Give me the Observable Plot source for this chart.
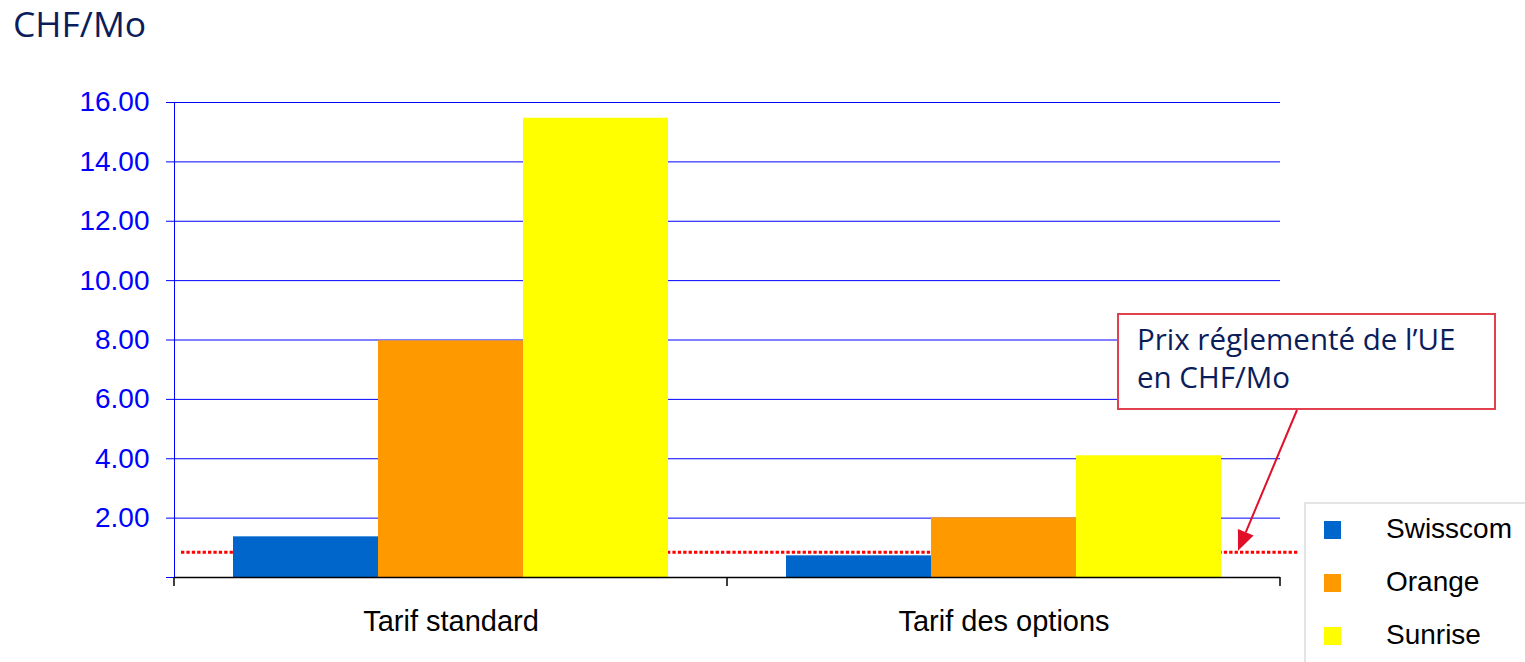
<!DOCTYPE html>
<html>
<head>
<meta charset="utf-8">
<script src="https://cdn.jsdelivr.net/npm/d3@7"></script>
<script src="https://cdn.jsdelivr.net/npm/@observablehq/plot@0.6"></script>
<style>
  html, body { margin: 0; padding: 0; background: #fff; }
  body { width: 1525px; height: 662px; overflow: hidden; position: relative; }
  #title { position: relative; height: 70px; }
  #title span { position: absolute; left: 13px; top: 6px; font-family: "Open Sans", sans-serif; font-size: 35.5px; line-height: 35.5px; color: #0b1d5a; white-space: nowrap; }
  #chart { position: relative; height: 592px; }
  #note { position: absolute; left: 1117px; top: 313px; width: 379px; height: 97px; box-sizing: border-box; border: 2px solid #e2404f; background: #fff; padding: 5px 0 0 18px; font-family: "Open Sans", sans-serif; font-weight: 500; font-size: 29.5px; line-height: 38px; color: #0b1d5a; white-space: nowrap; }
  #legend { position: absolute; left: 1304px; top: 502px; width: 260px; height: 200px; box-sizing: border-box; border: 2px solid #e4e4e4; background: #fff; }
  .lg-sw { position: absolute; width: 17px; height: 18px; }
  .lg-tx { position: absolute; font-family: "Liberation Sans", Arial, sans-serif; font-size: 28px; line-height: 28px; color: #000; white-space: nowrap; }
  #overlay { position: absolute; left: 0; top: 0; pointer-events: none; }
</style>
</head>
<body>
<div id="title"><span>CHF/Mo</span></div>
<div id="chart"></div>
<div id="note">Prix réglementé de l’UE<br>en CHF/Mo</div>
<div id="legend"></div>
<svg id="overlay" width="1525" height="662"></svg>
<script>
// ---- data ----
const categories = ["Tarif standard", "Tarif des options"];
const companies = ["Swisscom", "Orange", "Sunrise"];
const swisscom = [1.37, 0.73];
const orange = [7.97, 2.01];
const sunrise = [15.47, 4.10];
const euPrice = 0.85;
const yTicks = [0, 2, 4, 6, 8, 10, 12, 14, 16];
const colors = ["#0066cc", "#ff9900", "#ffff00"];

const series = [swisscom, orange, sunrise];
const data = categories.flatMap((cat, i) =>
  companies.map((co, j) => ({cat, co, value: series[j][i]}))
);

const blue = "#0000ff";
const red = "#ff0000";
const titleH = 70;

const chart = Plot.plot({
  width: 1525,
  height: 592,
  marginLeft: 173,
  marginRight: 245,
  marginTop: 32,
  marginBottom: 85,
  style: {fontFamily: "'Liberation Sans', Arial, sans-serif", background: "white", overflow: "visible"},
  fx: {domain: categories, padding: 0},
  x: {domain: companies, paddingInner: 0, paddingOuter: 0.4, axis: null},
  y: {domain: [0, 16], axis: null},
  color: {domain: companies, range: colors},
  marks: [
    Plot.gridY(yTicks.filter(d => d > 0), {stroke: blue, strokeOpacity: 1, strokeWidth: 1}),
    Plot.axisY(yTicks, {
      anchor: "left",
      tickFormat: d => d === 0 ? "" : d.toFixed(2),
      tickSize: 8, tickPadding: 17, fontSize: 28,
      color: blue, strokeOpacity: 1, label: null
    }),
    Plot.axisFx({anchor: "bottom", tickSize: 0, tickPadding: 33, fontSize: 29, label: null, color: "black"}),
    Plot.ruleY([euPrice], {fx: [categories[0]], stroke: red, strokeWidth: 3, strokeDasharray: "3.3,2.1", insetLeft: 7}),
    Plot.ruleY([euPrice], {fx: [categories[1]], stroke: red, strokeWidth: 3, strokeDasharray: "3.3,2.1", insetRight: -18}),
    Plot.barY(data, {fx: "cat", x: "co", y: "value", fill: "co"}),
    Plot.ruleY([0], {stroke: "black", strokeWidth: 1.5}),
    Plot.frame({anchor: "left", stroke: blue, strokeWidth: 1, facetAnchor: "left"})
  ]
});
document.getElementById("chart").appendChild(chart);

// category boundary ticks on the bottom axis (from the fx scale)
const fx = chart.scale("fx");
const ys = chart.scale("y");
const y0 = ys.apply(0);
const bounds = [fx.apply(categories[0]), ...categories.map(c => fx.apply(c) + fx.bandwidth)];
d3.select(chart).append("g")
  .attr("stroke", "black").attr("stroke-width", 1.5)
  .selectAll("line").data(bounds).join("line")
  .attr("x1", d => d).attr("x2", d => d)
  .attr("y1", y0).attr("y2", y0 + 9);

// legend
const legend = d3.select("#legend");
companies.forEach((co, i) => {
  const rowTop = 521 + i * 53 - 502 - 2;
  legend.append("div").attr("class", "lg-sw")
    .style("left", (1324 - 1304 - 2) + "px").style("top", rowTop + "px")
    .style("background", colors[i]);
  legend.append("div").attr("class", "lg-tx")
    .style("left", (1386 - 1304 - 2) + "px").style("top", (rowTop - 6) + "px")
    .text(co);
});

// annotation arrow pointing at the EU price line
const tipX = 1238, tipY = titleH + ys.apply(euPrice) - 1;
const startX = 1297, startY = 410;
const ov = d3.select("#overlay");
const ang = Math.atan2(tipY - startY, tipX - startX);
const hl = 20, hw = 8.5;
const bx = tipX - hl * Math.cos(ang), by = tipY - hl * Math.sin(ang);
ov.append("line")
  .attr("x1", startX).attr("y1", startY).attr("x2", bx).attr("y2", by)
  .attr("stroke", "#e0102a").attr("stroke-width", 2);
ov.append("path")
  .attr("d", `M${tipX},${tipY}L${bx + hw * Math.sin(ang)},${by - hw * Math.cos(ang)}L${bx - hw * Math.sin(ang)},${by + hw * Math.cos(ang)}Z`)
  .attr("fill", "#e0102a");
</script>
</body>
</html>
